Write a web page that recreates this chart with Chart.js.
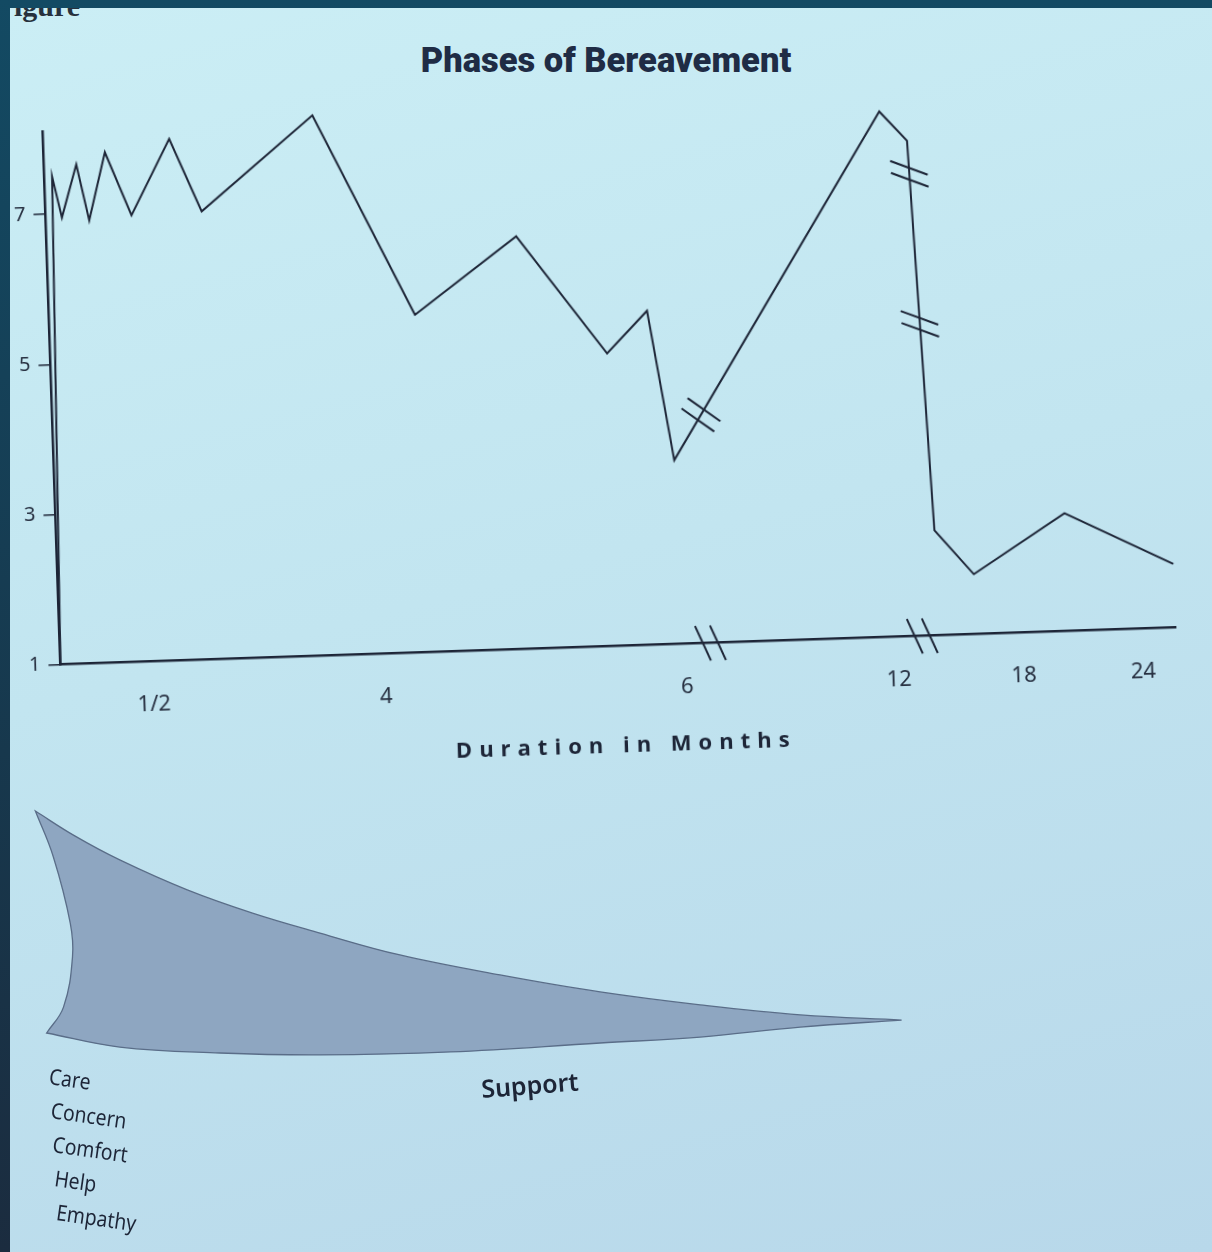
<!DOCTYPE html>
<html lang="en">
<head>
<meta charset="UTF-8">
<title>Phases of Bereavement</title>
<script src="https://cdn.jsdelivr.net/npm/chart.js@4.4.1/dist/chart.umd.min.js"></script>
<style>
  html, body { margin: 0; padding: 0; width: 1212px; height: 1252px; overflow: hidden; }
  body { background: linear-gradient(180deg, #134a63 0%, #17384d 60%, #1b2c3f 100%); position: relative; }
  .page {
    position: absolute; left: 10px; top: 8px; right: 0; bottom: 0; overflow: hidden;
    background: linear-gradient(165deg, #cbeef5 0%, #c2e5f0 45%, #b8d8ea 100%);
  }
  .frag { position: absolute; left: 4px; top: -19px; font: bold 30px "Liberation Serif", serif; color: #27313d; }
  h1 {
    position: absolute; left: 0; width: 1212px; top: 40px; margin: 0; text-align: center;
    font: 900 34.5px "Roboto", "Liberation Sans", sans-serif; color: #1f2c45;
  }
  canvas { position: absolute; left: 0; }
  /* the printed figure sits slightly rotated on the photographed page */
  #griefChart { top: 0; transform-origin: 60px 664px; transform: rotate(-1.9deg); }
  #supportChart { top: 780px; }
</style>
</head>
<body>
<div class="page"><div class="frag">igure</div></div>
<h1>Phases of Bereavement</h1>
<canvas id="griefChart" width="1212" height="780"></canvas>
<canvas id="supportChart" width="1212" height="472"></canvas>

<script>
// ---- data ----
// x axis is a broken time axis: positions 0..100 along it, labelled in months
const monthLabels = ['1/2', '4', '6', '12', '18', '24'];
const monthPos = [8.3, 29.1, 56.1, 75.1, 86.3, 97.0];
const levelTicks = [1, 3, 5, 7];

// grief intensity line
const griefX = [0, 0.7, 1.46, 2.9, 3.9, 5.5, 7.7, 11.3, 14.0, 24.2, 32.8, 42.1, 49.9, 53.6, 55.6, 75.0, 77.4, 78.7, 82.1, 90.4, 100];
const griefY = [1, 7.5, 6.95, 7.65, 6.9, 7.8, 6.95, 7.95, 6.97, 8.2, 5.5, 6.5, 4.9, 5.45, 3.45, 8.0, 7.6, 2.4, 1.8, 2.57, 1.85];

// breaks: on the x axis (positions) and along line segments (segment index, fraction)
const axisBreaks = [58.3, 77.3];
const lineBreaks = [[14, 0.13], [16, 0.085], [16, 0.47]];

// support wedge outline (tip -> upper edge -> left edge -> lower edge -> tip);
// repeated points keep the corners sharp
const wedgeX = [75.7, 66.7, 57.8, 48.9, 40.0, 31.1, 24.0, 18.0, 12.2, 6.2, 2.2, -1.3, -1.3,
                0.3, 1.8, 2.0, 1.2, -0.3, -0.3, 6.2, 15.1, 24.0, 35.6, 48.9, 57.8, 66.7, 75.7];
const wedgeY = [1.85, 2.04, 2.41, 2.89, 3.52, 4.26, 5.07, 5.81, 6.67, 7.78, 8.67, 9.59, 9.59,
                7.89, 5.44, 4.19, 2.33, 1.37, 1.37, 0.85, 0.63, 0.56, 0.67, 1.0, 1.22, 1.59, 1.85];

const helpWords = ['Care', 'Concern', 'Comfort', 'Help', 'Empathy'];

const ink = '#1d2537';

// ---- break marks "//" ----
const breakMarks = {
  id: 'breakMarks',
  afterDatasetsDraw(chart) {
    const ctx = chart.ctx;
    const pts = chart.getDatasetMeta(0).data;
    const xs = chart.scales.x, ys = chart.scales.y;

    function pair(cx, cy, dx, dy, angle, len, gap) {
      const d = Math.hypot(dx, dy) || 1;
      dx /= d; dy /= d;
      const mx = Math.cos(angle * Math.PI / 180), my = Math.sin(angle * Math.PI / 180);
      [-1, 1].forEach(s => {
        const px = cx + s * dx * gap / 2, py = cy + s * dy * gap / 2;
        ctx.beginPath();
        ctx.moveTo(px - mx * len / 2, py - my * len / 2);
        ctx.lineTo(px + mx * len / 2, py + my * len / 2);
        ctx.stroke();
      });
    }

    ctx.save();
    ctx.strokeStyle = ink;
    ctx.lineWidth = 2;
    axisBreaks.forEach(v => pair(xs.getPixelForValue(v), ys.getPixelForValue(1), 1, 0, 67, 38, 15));
    lineBreaks.forEach(([seg, t], i) => {
      const a = pts[seg], b = pts[seg + 1];
      const cx = a.x + (b.x - a.x) * t, cy = a.y + (b.y - a.y) * t;
      pair(cx, cy, b.x - a.x, b.y - a.y, i === 0 ? 37 : 22, 40, 12);
    });
    ctx.restore();
  }
};

// ---- spaced axis title ----
const spacedTitle = {
  id: 'spacedTitle',
  afterDraw(chart) {
    const ctx = chart.ctx, area = chart.chartArea;
    ctx.save();
    ctx.font = '700 22px "Open Sans", sans-serif';
    ctx.letterSpacing = '7px';
    ctx.fillStyle = ink;
    ctx.textAlign = 'center';
    ctx.textBaseline = 'alphabetic';
    ctx.fillText('Duration in Months', (area.left + area.right) / 2 + 5, area.bottom + 106);
    ctx.restore();
  }
};

new Chart(document.getElementById('griefChart'), {
  type: 'line',
  data: {
    datasets: [{
      data: griefX.map((x, i) => ({ x, y: griefY[i] })),
      borderColor: ink,
      borderWidth: 2,
      pointRadius: 0,
      tension: 0,
      fill: false,
      clip: false
    }]
  },
  options: {
    responsive: false,
    animation: false,
    layout: { padding: { left: 21, right: 36, top: 131.5, bottom: 37 } },
    scales: {
      x: {
        type: 'linear',
        min: 0,
        max: 100,
        afterBuildTicks: s => { s.ticks = monthPos.map(v => ({ value: v })); },
        ticks: {
          callback: (v, i) => monthLabels[i],
          font: { family: '"Noto Sans", sans-serif', size: 22 },
          color: '#273041',
          padding: 22,
          maxRotation: 0,
          autoSkip: false
        },
        grid: { display: false },
        border: { color: ink, width: 2.5 }
      },
      y: {
        min: 1,
        max: 8.1,
        afterBuildTicks: s => { s.ticks = levelTicks.map(v => ({ value: v })); },
        ticks: {
          font: { family: '"Noto Sans", sans-serif', size: 20 },
          color: '#273041',
          padding: 8
        },
        grid: { drawOnChartArea: false, drawTicks: true, tickLength: 12, color: ink, lineWidth: 1.5 },
        border: { color: ink, width: 2.5 }
      }
    },
    plugins: {
      legend: { display: false },
      tooltip: { enabled: false }
    }
  },
  plugins: [breakMarks, spacedTitle]
});

// ---- labels under the wedge ----
const supportLabels = {
  id: 'supportLabels',
  afterDraw(chart) {
    const ctx = chart.ctx;
    const left = chart.chartArea.left;
    ctx.save();
    ctx.fillStyle = ink;
    ctx.textBaseline = 'alphabetic';
    helpWords.forEach((w, i) => {
      ctx.save();
      ctx.translate(left + 32 + i * 1.8, 304 + i * 34);
      ctx.rotate(8 * Math.PI / 180);
      ctx.scale(0.88, 1);
      ctx.font = '22px "Noto Sans", sans-serif';
      ctx.fillText(w, 0, 0);
      ctx.restore();
    });
    ctx.save();
    ctx.translate(482, 318);
    ctx.rotate(-4.5 * Math.PI / 180);
    ctx.font = '600 25px "Noto Sans", sans-serif';
    ctx.fillText('Support', 0, 0);
    ctx.restore();
    ctx.restore();
  }
};

new Chart(document.getElementById('supportChart'), {
  type: 'line',
  data: {
    datasets: [{
      data: wedgeX.map((x, i) => ({ x, y: wedgeY[i] })),
      fill: 'shape',
      backgroundColor: '#8ea6c1',
      borderColor: '#5a6d88',
      borderWidth: 1.3,
      pointRadius: 0,
      tension: 0.4,
      clip: false
    }]
  },
  options: {
    responsive: false,
    animation: false,
    layout: { padding: { left: 16.25, right: 37, top: 20, bottom: 182 } },
    scales: {
      x: { type: 'linear', min: -3, max: 100, display: false },
      y: { min: 0, max: 10, display: false }
    },
    plugins: { legend: { display: false }, tooltip: { enabled: false } }
  },
  plugins: [supportLabels]
});
</script>
</body>
</html>
